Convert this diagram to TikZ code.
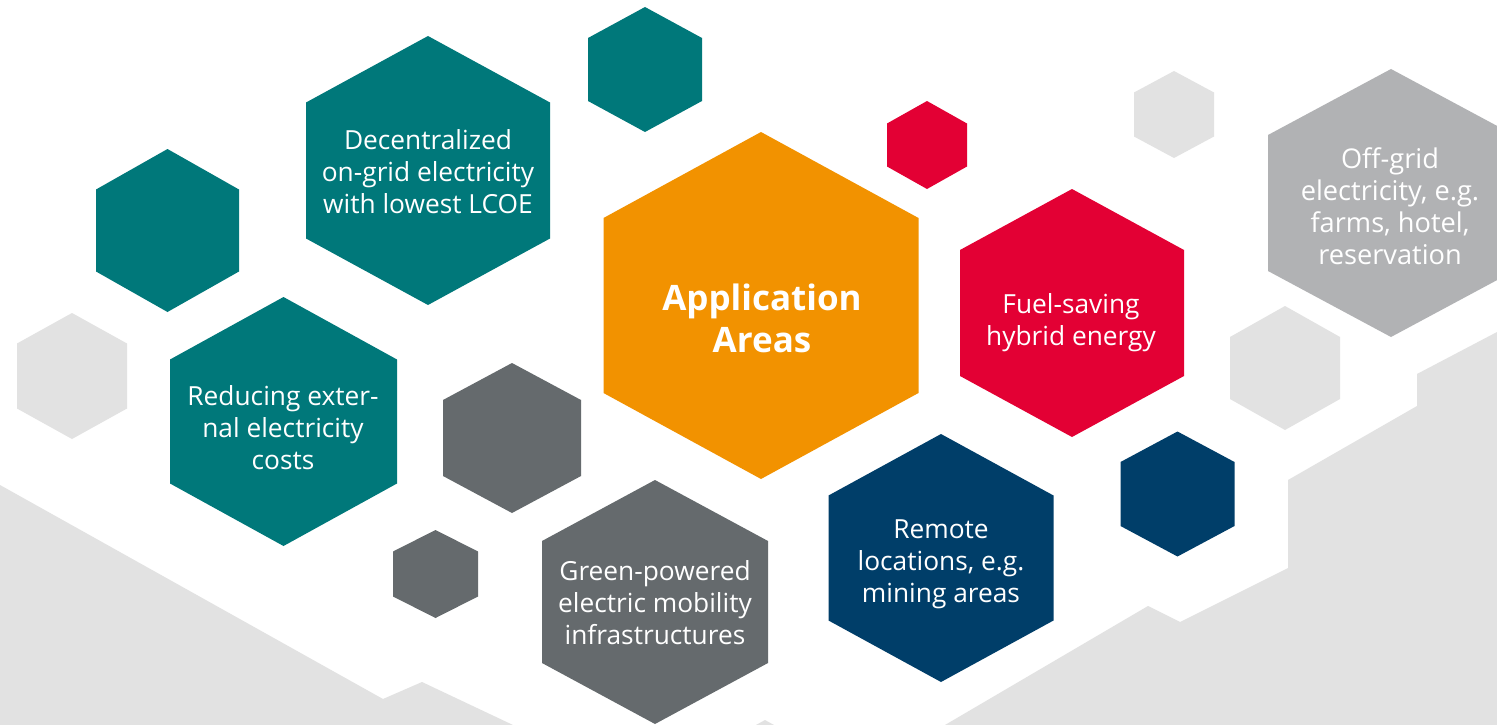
\documentclass[tikz,border=0pt]{standalone}
\usepackage{fontspec}
\setmainfont{Open Sans}
\definecolor{teal1}{RGB}{0,120,122}
\definecolor{orange1}{RGB}{242,146,0}
\definecolor{red1}{RGB}{227,0,52}
\definecolor{navy1}{RGB}{0,62,105}
\definecolor{dgrey}{RGB}{101,106,109}
\definecolor{mgrey}{RGB}{177,178,180}
\definecolor{lgrey}{RGB}{226,226,226}
\newcommand\hexagon[6]{%
  \fill[#6] ({#1},{#2-#4}) -- ({#1+#3},{#2-#5}) -- ({#1+#3},{#2+#5}) -- ({#1},{#2+#4})
    -- ({#1-#3},{#2+#5}) -- ({#1-#3},{#2-#5}) -- cycle;}
\tikzset{
  lbl/.style={text=white, align=center, inner sep=0pt, font=\fontsize{26.3}{32}\selectfont},
  lblwide/.style={lbl, font=\fontsize{27.2}{32}\selectfont},
  title/.style={text=white, align=center, inner sep=0pt, font=\bfseries\fontsize{35}{42}\selectfont},
  bgshape/.style={fill=lgrey}
}
\begin{document}
\begin{tikzpicture}[x=1pt,y=-1pt]
\useasboundingbox (0,0) rectangle (1497,725);
\fill[white] (0,0) rectangle (1497,725);
% background light grey areas
\fill[bgshape] (0,485) -- (383,699) -- (422,682) -- (513,725) -- (0,725) -- cycle;
\fill[bgshape] (756,725) -- (765,720) -- (774,725) -- cycle;
\fill[bgshape] (945,725) -- (1148,606) -- (1180,622) -- (1288,568) -- (1288,480)
  -- (1417,406) -- (1417,374) -- (1497,332) -- (1497,725) -- cycle;
% decorative hexagons
\hexagon{645}{69.5}{57}{62.5}{31.5}{teal1}
\hexagon{167.5}{230.5}{71.5}{81.5}{41}{teal1}
\hexagon{72}{376}{55}{63}{32.5}{lgrey}
\hexagon{512}{438}{69}{75}{38}{dgrey}
\hexagon{435.5}{574}{42.5}{44}{22.5}{dgrey}
\hexagon{927}{145}{40}{44}{21.5}{red1}
\hexagon{1177.5}{494}{57}{62.5}{32}{navy1}
\hexagon{1174}{114.5}{40}{43.5}{22}{lgrey}
\hexagon{1285}{368}{55}{62}{31}{lgrey}
% labelled hexagons
\hexagon{428}{170.5}{122}{134.5}{68}{teal1}
\hexagon{283.5}{421.5}{113.5}{124.5}{62}{teal1}
\hexagon{655}{602}{113}{122}{61}{dgrey}
\hexagon{761}{305.5}{157.5}{173.5}{87.5}{orange1}
\hexagon{1072}{313}{112}{124}{63}{red1}
\hexagon{941}{558}{112.5}{124}{62.5}{navy1}
\hexagon{1391}{203}{123}{134}{68}{mgrey}
% labels
\node[lbl] (dec) at (428,172) {Decentralized\\on-grid electricity\\with lowest LCOE};
\node[lbl] (red) at (283,428) {Reducing exter-\\nal electricity\\costs};
\node[lbl] (grn) at (655,603) {Green-powered\\electric mobility\\infrastructures};
\node[title] (app) at (762,318) {Application\\Areas};
\node[lbl] (fuel) at (1071,323) {Fuel-saving\\hybrid energy};
\node[lbl] (rem) at (941,564) {Remote\\locations, e.g.\\mining areas};
\node[lblwide] (off) at (1390,206) {Off-grid\\electricity, e.g.\\farms, hotel,\\reservation};
\end{tikzpicture}
\end{document}
